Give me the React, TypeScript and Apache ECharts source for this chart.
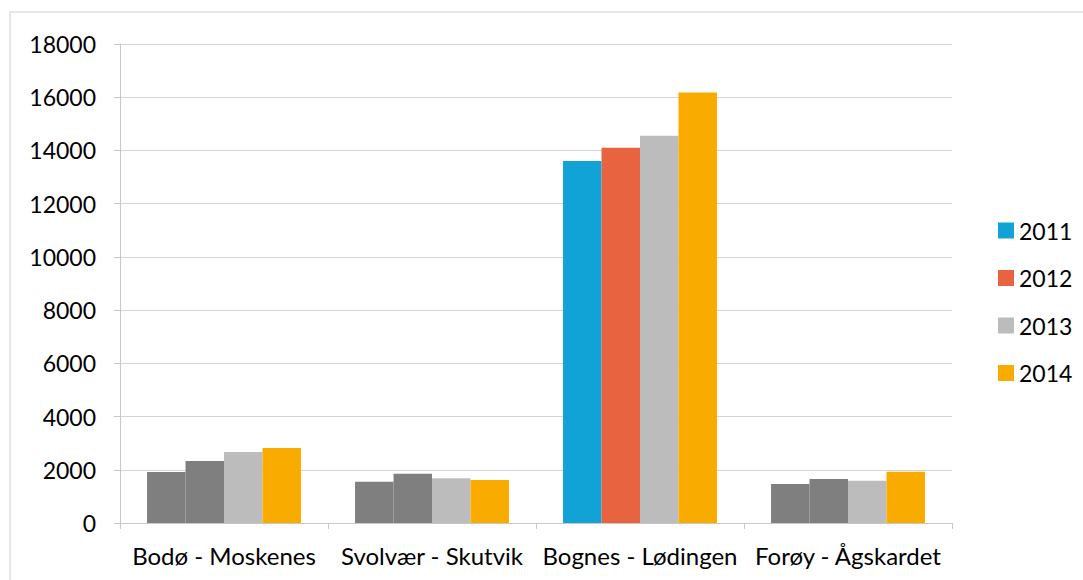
import React, { useEffect, useRef } from "react";
import * as echarts from "echarts";

const categories = ["Bodø - Moskenes", "Svolvær - Skutvik", "Bognes - Lødingen", "Forøy - Ågskardet"];
const years = ["2011", "2012", "2013", "2014"];
const values2011 = [1920, 1550, 13600, 1470];
const values2012 = [2330, 1850, 14100, 1650];
const values2013 = [2670, 1680, 14550, 1590];
const values2014 = [2820, 1620, 16180, 1930];
const seriesColors = ["#12a3d6", "#e8633f", "#bcbcbc", "#f9ab00"];
const mutedColor = "#7f7f7f";
// which categories show 2011/2012 in the muted grey
const mutedCategories = [true, true, false, true];

export default function App() {
  const ref = useRef<HTMLDivElement>(null);
  useEffect(() => {
    document.body.style.margin = "0";
    const chart = echarts.init(ref.current!, null, { renderer: "svg" });
    const all = [values2011, values2012, values2013, values2014];
    const font = "Lato, 'Liberation Sans', sans-serif";
    chart.setOption({
      animation: false,
      textStyle: { fontFamily: font },
      graphic: [
        {
          type: "rect",
          shape: { x: 10, y: 12, width: 1100, height: 600 },
          style: { fill: "none", stroke: "#d0d0d0", lineWidth: 1 },
          silent: true,
        },
      ],
      legend: {
        orient: "vertical",
        left: 993,
        top: 214,
        itemWidth: 16,
        itemHeight: 16,
        itemGap: 24.5,
        icon: "rect",
        textStyle: { fontSize: 23, color: "#000", fontFamily: font },
        data: years,
      },
      grid: { left: 120, right: 131, top: 44, bottom: 57 },
      xAxis: {
        type: "category",
        data: categories,
        axisLine: { lineStyle: { color: "#c8c8c8" } },
        axisTick: { show: true, length: 6, lineStyle: { color: "#c8c8c8" } },
        axisLabel: { fontSize: 24, color: "#000", margin: 20, interval: 0, fontFamily: font },
      },
      yAxis: {
        type: "value",
        min: 0,
        max: 18000,
        interval: 2000,
        axisLine: { show: true, lineStyle: { color: "#c8c8c8" } },
        axisTick: { show: true, length: 6, lineStyle: { color: "#c8c8c8" } },
        axisLabel: {
          fontSize: 23,
          color: "#000",
          margin: 24,
          fontFamily: font,
          formatter: (v: number) => String(v),
        },
        splitLine: { lineStyle: { color: "#d4d4d4" } },
      },
      series: years.map((y, si) => ({
        name: y,
        type: "bar",
        barGap: "0%",
        barCategoryGap: "26%",
        itemStyle: { color: seriesColors[si] },
        data: all[si].map((v, ci) =>
          si < 2 && mutedCategories[ci]
            ? { value: v, itemStyle: { color: mutedColor } }
            : v
        ),
      })),
    });
    return () => chart.dispose();
  }, []);
  return <div ref={ref} style={{ width: 1083, height: 580 }} />;
}
